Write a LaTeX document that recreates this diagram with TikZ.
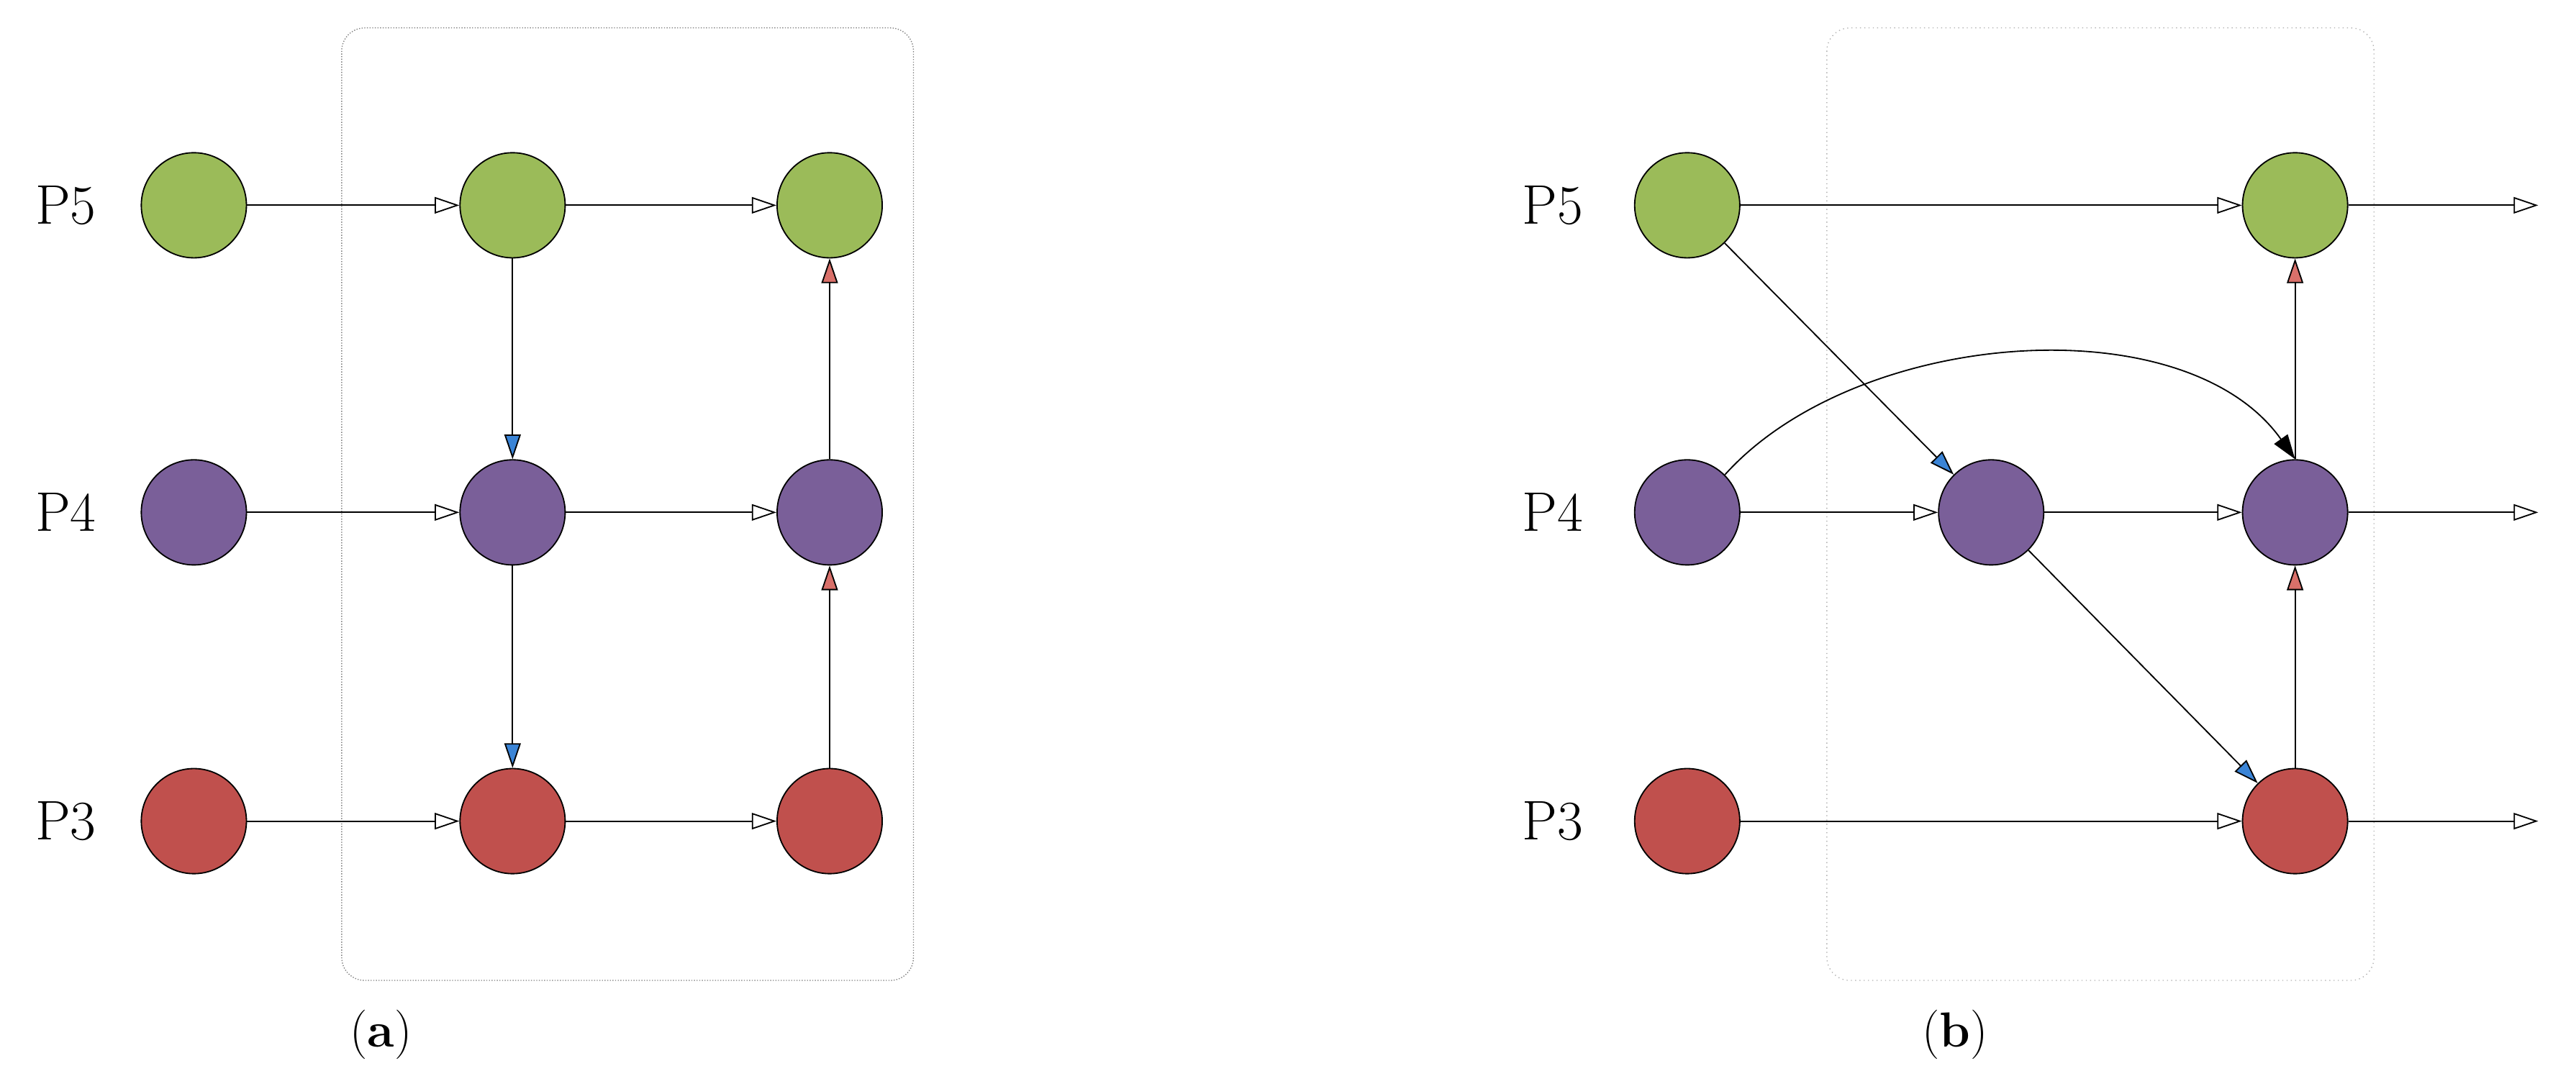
\documentclass[tikz,border=0pt]{standalone}
\usetikzlibrary{arrows.meta}
\definecolor{gr}{HTML}{9BBB59}\definecolor{pu}{HTML}{7A5F99}\definecolor{rd}{HTML}{C0504D}
\definecolor{bl}{HTML}{3A84D6}\definecolor{ra}{HTML}{D9706A}
\begin{document}
\begin{tikzpicture}[x=1pt,y=-1pt,
 nd/.style={circle,draw,line width=0.8pt,minimum size=64pt,inner sep=0pt},
 lb/.style={font=\fontsize{34}{40}\selectfont},
 captxt/.style={font=\fontsize{30}{36}\selectfont},
 e/.style={line width=0.8pt},
 op/.style={e,-{Triangle[length=15pt,width=10pt,fill=white]}},
 bt/.style={e,-{Triangle[length=15pt,width=10pt,fill=bl]}},
 rt/.style={e,-{Triangle[length=15pt,width=10pt,fill=ra]}},
 bx/.style={draw=gray,line width=0.6pt,rounded corners=14pt}]
\useasboundingbox (0,0) rectangle (1568,663);
% (a)
\draw[bx,densely dotted] (208,17) rectangle (556,597);
\node[lb] (a5) at (40,125) {P5};\node[lb] (a4) at (40,312) {P4};\node[lb] (a3) at (40,500) {P3};
\foreach \r/\y/\c in {5/125/gr,4/312/pu,3/500/rd}{
 \node[nd,fill=\c] (a\r1) at (118,\y) {};
 \node[nd,fill=\c] (a\r2) at (312,\y) {};
 \node[nd,fill=\c] (a\r3) at (505,\y) {};
 \draw[op] (a\r1) -- (a\r2); \draw[op] (a\r2) -- (a\r3);}
\draw[bt] (a52) -- (a42); \draw[bt] (a42) -- (a32);
\draw[rt] (a33) -- (a43); \draw[rt] (a43) -- (a53);
\node[captxt] (ca) at (232,630) {(\textbf{a})};
% (b)
\draw[bx,dotted,draw=gray!60] (1112,17) rectangle (1445,597);
\node[lb] (b5) at (945,125) {P5};\node[lb] (b4) at (945,312) {P4};\node[lb] (b3) at (945,500) {P3};
\node[nd,fill=gr] (b51) at (1027,125) {};\node[nd,fill=gr] (b53) at (1397,125) {};
\node[nd,fill=pu] (b41) at (1027,312) {};\node[nd,fill=pu] (b42) at (1212,312) {};\node[nd,fill=pu] (b43) at (1397,312) {};
\node[nd,fill=rd] (b31) at (1027,500) {};\node[nd,fill=rd] (b33) at (1397,500) {};
\coordinate (o5) at (1545,125);\coordinate (o4) at (1545,312);\coordinate (o3) at (1545,500);
\draw[op] (b51) -- (b53); \draw[op] (b41) -- (b42); \draw[op] (b42) -- (b43); \draw[op] (b31) -- (b33);
\draw[op] (b53) -- (o5); \draw[op] (b43) -- (o4); \draw[op] (b33) -- (o3);
\draw[bt] (b51) -- (b42); \draw[bt] (b42) -- (b33);
\draw[rt] (b33) -- (b43); \draw[rt] (b43) -- (b53);
\draw[e,-{Triangle[length=15pt,width=10pt]}] (b41.north east) .. controls (1130,200) and (1330,185) .. (b43.north);
\node[captxt] (cb) at (1190,630) {(\textbf{b})};
\end{tikzpicture}
\end{document}
